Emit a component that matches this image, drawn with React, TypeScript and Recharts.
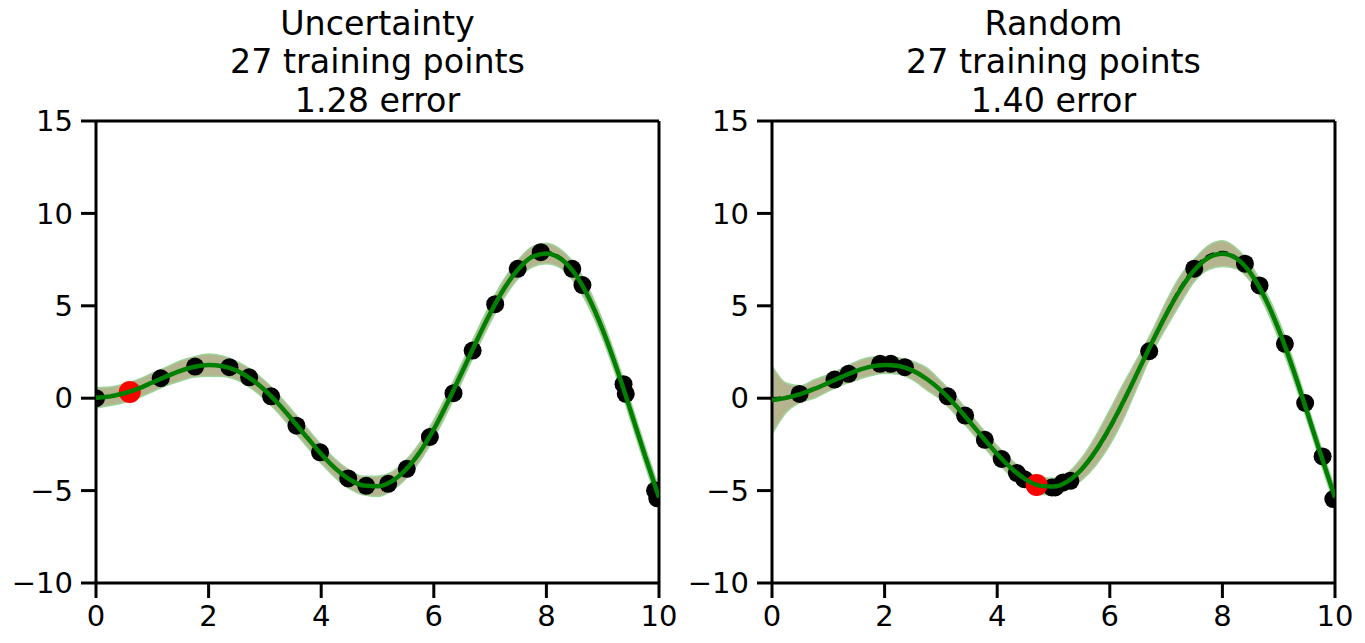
import {
  ComposedChart,
  Area,
  Line,
  Scatter,
  XAxis,
  YAxis,
  ReferenceLine,
} from 'recharts'

// x grid used for the curves (read every 0.25)
const xGrid = [
  0, 0.25, 0.5, 0.75, 1, 1.25, 1.5, 1.75, 2, 2.25, 2.5, 2.75, 3, 3.25, 3.5, 3.75, 4, 4.25, 4.5, 4.75,
  5, 5.25, 5.5, 5.75, 6, 6.25, 6.5, 6.75, 7, 7.25, 7.5, 7.75, 8, 8.25, 8.5, 8.75, 9, 9.25, 9.5, 9.75, 10,
]

// dashed black reference curve
const trueCurve = [
  0, 0.06, 0.24, 0.51, 0.84, 1.19, 1.5, 1.72, 1.82, 1.75, 1.5, 1.05, 0.42, -0.35, -1.23, -2.14, -3.03,
  -3.8, -4.4, -4.75, -4.79, -4.51, -3.88, -2.92, -1.68, -0.21, 1.4, 3.04, 4.6, 5.97, 7.03, 7.71, 7.91,
  7.61, 6.79, 5.46, 3.71, 1.61, -0.71, -3.11, -5.44,
]

// left panel: uncertainty sampling
const uncMean = [
  0.02, 0.1, 0.27, 0.52, 0.85, 1.18, 1.48, 1.7, 1.79, 1.73, 1.49, 1.05, 0.43, -0.34, -1.22, -2.13, -3.02,
  -3.8, -4.39, -4.73, -4.77, -4.5, -3.87, -2.92, -1.68, -0.2, 1.4, 3.03, 4.58, 5.94, 6.98, 7.65, 7.83,
  7.55, 6.76, 5.45, 3.7, 1.6, -0.72, -3.1, -5.38,
]
const uncStd = [
  0.55, 0.5, 0.5, 0.5, 0.5, 0.5, 0.55, 0.55, 0.6, 0.55, 0.5, 0.5, 0.5, 0.5, 0.5, 0.5, 0.5, 0.5, 0.5, 0.5,
  0.55, 0.5, 0.5, 0.5, 0.5, 0.5, 0.5, 0.5, 0.5, 0.5, 0.5, 0.55, 0.55, 0.5, 0.5, 0.5, 0.5, 0.5, 0.5, 0.5, 0.5,
]
const uncPointsX = [
  0, 1.15, 1.76, 2.37, 2.72, 3.11, 3.56, 3.98, 4.48, 4.8, 5.19, 5.52, 5.93, 6.35, 6.69, 7.09, 7.49, 7.9,
  8.46, 8.64, 9.37, 9.41, 9.93, 9.97,
]
const uncPointsY = [
  0, 1.08, 1.71, 1.68, 1.13, 0.1, -1.49, -2.93, -4.34, -4.74, -4.63, -3.82, -2.1, 0.27, 2.58, 5.09, 7.0,
  7.9, 7.0, 6.12, 0.76, 0.24, -5.0, -5.42,
]
const uncNext = { x: 0.6, y: 0.34 }

// right panel: random sampling
const rndMean = [
  -0.1, 0.02, 0.22, 0.5, 0.83, 1.17, 1.48, 1.71, 1.8, 1.74, 1.49, 1.04, 0.42, -0.35, -1.23, -2.14, -3.02,
  -3.79, -4.38, -4.73, -4.78, -4.5, -3.84, -2.85, -1.58, -0.12, 1.44, 3.02, 4.52, 5.86, 6.92, 7.6, 7.82,
  7.56, 6.77, 5.46, 3.71, 1.62, -0.7, -3.08, -5.38,
]
const rndStd = [
  1.85, 0.8, 0.45, 0.5, 0.45, 0.45, 0.5, 0.5, 0.45, 0.45, 0.5, 0.6, 0.5, 0.5, 0.45, 0.45, 0.45, 0.45, 0.45,
  0.45, 0.45, 0.45, 0.6, 0.8, 0.95, 0.95, 0.75, 0.6, 0.7, 0.75, 0.6, 0.65, 0.7, 0.55, 0.45, 0.45, 0.5, 0.5,
  0.45, 0.45, 0.45,
]
const rndPointsX = [
  0.49, 1.11, 1.36, 1.92, 2.11, 2.36, 3.12, 3.43, 3.78, 4.08, 4.35, 4.48, 4.97, 5.03, 5.17, 5.3, 6.7, 7.5,
  8.4, 8.66, 9.11, 9.47, 9.78, 9.97,
]
const rndPointsY = [
  0.23, 1.01, 1.32, 1.86, 1.86, 1.68, 0.1, -0.94, -2.25, -3.29, -4.05, -4.38, -4.83, -4.83, -4.56, -4.47,
  2.54, 7.01, 7.28, 6.1, 2.94, -0.26, -3.15, -5.46,
]
const rndNext = { x: 4.7, y: -4.7 }

const xTicks = [0, 2, 4, 6, 8, 10]
const yTicks = [-10, -5, 0, 5, 10, 15]

const FONT = '"DejaVu Sans", sans-serif'

function buildRows(mean: number[], std: number[]) {
  return xGrid.map((x, i) => ({
    x,
    truth: trueCurve[i],
    mean: mean[i],
    band: [mean[i] - std[i], mean[i] + std[i]],
  }))
}

function buildPoints(xs: number[], ys: number[]) {
  return xs.map((x, i) => ({ x, y: ys[i] }))
}

const fmtY = (v: number) => (v < 0 ? '\u2212' + Math.abs(v) : String(v))

type PanelProps = {
  rows: ReturnType<typeof buildRows>
  points: { x: number; y: number }[]
  next: { x: number; y: number }
  width: number
  right: number
}

function Panel({ rows, points, next, width, right }: PanelProps) {
  const tickStyle = { fontSize: 29, fill: '#000', fontFamily: FONT }
  return (
    <ComposedChart
      width={width}
      height={643}
      data={rows}
      margin={{ top: 121, right, bottom: 0, left: 0 }}
    >
      <XAxis
        dataKey="x"
        type="number"
        domain={[0, 10]}
        ticks={xTicks}
        allowDataOverflow
        height={60}
        tick={tickStyle}
        tickSize={15}
        tickMargin={7}
        axisLine={{ stroke: '#000', strokeWidth: 3 }}
        tickLine={{ stroke: '#000', strokeWidth: 3 }}
      />
      <YAxis
        type="number"
        domain={[-10, 15]}
        ticks={yTicks}
        allowDataOverflow
        width={96}
        tick={tickStyle}
        tickFormatter={fmtY}
        tickSize={15}
        tickMargin={8}
        axisLine={{ stroke: '#000', strokeWidth: 3 }}
        tickLine={{ stroke: '#000', strokeWidth: 3 }}
      />
      <Area
        dataKey="band"
        type="monotone"
        fill="#b4b48f"
        fillOpacity={1}
        stroke="#9ed49a"
        strokeWidth={1.5}
        isAnimationActive={false}
        dot={false}
        activeDot={false}
      />
      <Line
        dataKey="truth"
        type="monotone"
        stroke="#000"
        strokeWidth={2.5}
        strokeDasharray="9 5"
        dot={false}
        activeDot={false}
        isAnimationActive={false}
      />
      <Scatter
        data={points}
        dataKey="y"
        isAnimationActive={false}
        shape={(p: any) => <circle cx={p.cx} cy={p.cy} r={9} fill="#000" />}
      />
      <Scatter
        data={[next]}
        dataKey="y"
        isAnimationActive={false}
        shape={(p: any) => <circle cx={p.cx} cy={p.cy} r={11} fill="#ff0000" />}
      />
      <Line
        dataKey="mean"
        type="monotone"
        stroke="#008000"
        strokeWidth={4.5}
        dot={false}
        activeDot={false}
        isAnimationActive={false}
        zIndex={700}
      />
      <ReferenceLine y={15} stroke="#000" strokeWidth={3} />
      <ReferenceLine x={10} stroke="#000" strokeWidth={3} />
    </ComposedChart>
  )
}

function Title({ cx, lines }: { cx: number; lines: string[] }) {
  return (
    <>
      {lines.map((t, i) => (
        <text
          key={i}
          x={cx}
          y={35 + i * 38.4}
          textAnchor="middle"
          fontSize={33.3}
          fontFamily={FONT}
          fill="#000"
        >
          {t}
        </text>
      ))}
    </>
  )
}

export default function App() {
  const leftRows = buildRows(uncMean, uncStd)
  const rightRows = buildRows(rndMean, rndStd)
  return (
    <div style={{ position: 'absolute', left: 0, top: 0, width: 1365, height: 643, background: '#fff' }}>
      <div style={{ position: 'absolute', left: 0, top: 0 }}>
        <Panel rows={leftRows} points={buildPoints(uncPointsX, uncPointsY)} next={uncNext} width={676} right={17} />
      </div>
      <div style={{ position: 'absolute', left: 676, top: 0 }}>
        <Panel rows={rightRows} points={buildPoints(rndPointsX, rndPointsY)} next={rndNext} width={689} right={30} />
      </div>
      <svg width={1365} height={643} style={{ position: 'absolute', left: 0, top: 0, pointerEvents: 'none' }}>
        <Title cx={377.5} lines={['Uncertainty', '27 training points', '1.28 error']} />
        <Title cx={1053.5} lines={['Random', '27 training points', '1.40 error']} />
      </svg>
    </div>
  )
}
